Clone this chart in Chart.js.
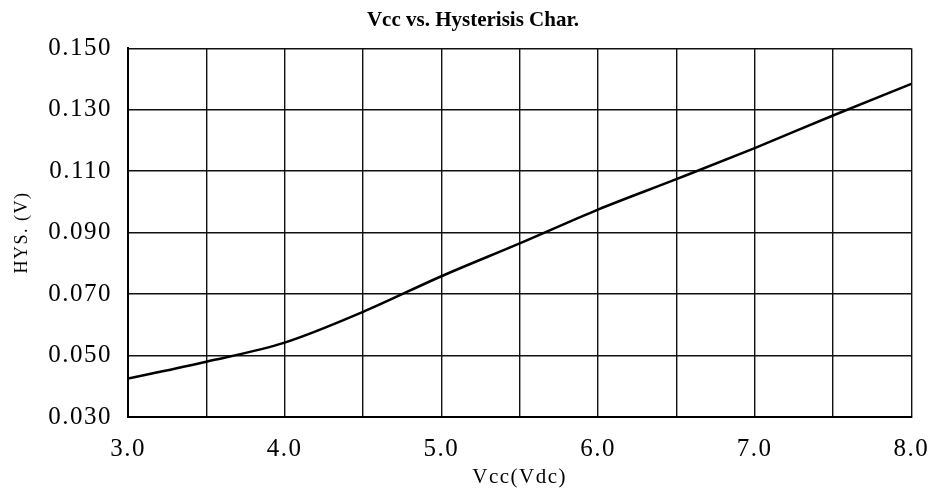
<!DOCTYPE html>
<html>
<head>
<meta charset="utf-8">
<script src="https://cdn.jsdelivr.net/npm/chart.js@4/dist/chart.umd.min.js"></script>
<style>
  html, body { margin: 0; padding: 0; background: #fff; }
  #wrap { width: 944px; height: 492px; }
</style>
</head>
<body>
<div id="wrap"><canvas id="c" width="944" height="492"></canvas></div>
<script>
const vccValues = [3.0, 3.5, 4.0, 4.5, 5.0, 5.5, 6.0, 6.5, 7.0, 7.5, 8.0];
const hysValues = [0.0425, 0.0480, 0.0542, 0.0642, 0.0758, 0.0865, 0.0975, 0.1074, 0.1175, 0.1281, 0.1384];
const xTickLabels = ['3.0', '4.0', '5.0', '6.0', '7.0', '8.0'];
const yTickLabels = ['0.030', '0.050', '0.070', '0.090', '0.110', '0.130', '0.150'];
const chartTitle = 'Vcc vs. Hysterisis Char.';
const xTitle = 'Vcc(Vdc)';
const yTitle = 'HYS. (V)';

const points = vccValues.map((v, i) => ({ x: v, y: hysValues[i] }));

// Wide letter spacing for axis text (typewriter-like look of the original),
// normal spacing for the bold chart title.
const spacingPlugin = {
  id: 'spacing',
  beforeDraw(chart) {
    chart.ctx.letterSpacing = '1.5px';
    const tb = chart.titleBlock;
    if (tb && !tb._wrapped) {
      const orig = tb.draw.bind(tb);
      tb.draw = function () {
        const ctx = this.ctx;
        const prev = ctx.letterSpacing;
        ctx.letterSpacing = '0px';
        orig();
        ctx.letterSpacing = prev;
      };
      tb._wrapped = true;
    }
  },
  afterDraw(chart) {
    chart.ctx.letterSpacing = '0px';
  }
};

new Chart(document.getElementById('c'), {
  type: 'line',
  data: {
    datasets: [{
      data: points,
      borderColor: '#000',
      borderWidth: 2.5,
      pointRadius: 0,
      fill: false,
      cubicInterpolationMode: 'monotone'
    }]
  },
  plugins: [spacingPlugin],
  options: {
    responsive: false,
    animation: false,
    layout: { padding: { left: 34, right: 32, top: 0, bottom: 0 } },
    plugins: {
      legend: { display: false },
      tooltip: { enabled: false },
      title: {
        display: true,
        text: chartTitle,
        color: '#000',
        font: { family: 'Liberation Serif', size: 21, weight: 'bold' },
        padding: { top: 8, bottom: 15 }
      }
    },
    scales: {
      x: {
        type: 'linear',
        min: 3, max: 8,
        ticks: {
          stepSize: 0.5,
          color: '#000',
          padding: 17,
          maxRotation: 0,
          autoSkip: false,
          font: { family: 'Liberation Serif', size: 25 },
          callback: (v) => {
            const s = Number(v).toFixed(1);
            return xTickLabels.includes(s) ? s : '';
          }
        },
        grid: { color: '#111', lineWidth: 1.4, drawTicks: false },
        border: { color: '#000', width: 2 },
        title: {
          display: true,
          text: xTitle,
          color: '#000',
          font: { family: 'Liberation Serif', size: 21 },
          padding: { top: 0, bottom: 2 }
        },
        afterFit: (s) => { s.height = 75; }
      },
      y: {
        type: 'linear',
        min: 0.03, max: 0.15,
        ticks: {
          stepSize: 0.02,
          color: '#000',
          padding: 16,
          font: { family: 'Liberation Serif', size: 25 },
          callback: (v) => {
            const s = Number(v).toFixed(3);
            return yTickLabels.includes(s) ? s : '';
          }
        },
        grid: { color: '#111', lineWidth: 1.4, drawTicks: false },
        border: { color: '#000', width: 2 },
        title: {
          display: true,
          text: yTitle,
          color: '#000',
          font: { family: 'Liberation Serif', size: 18 },
          padding: { top: -23, bottom: 0 }
        },
        afterFit: (s) => { s.width = 94; }
      }
    }
  }
});
</script>
</body>
</html>
